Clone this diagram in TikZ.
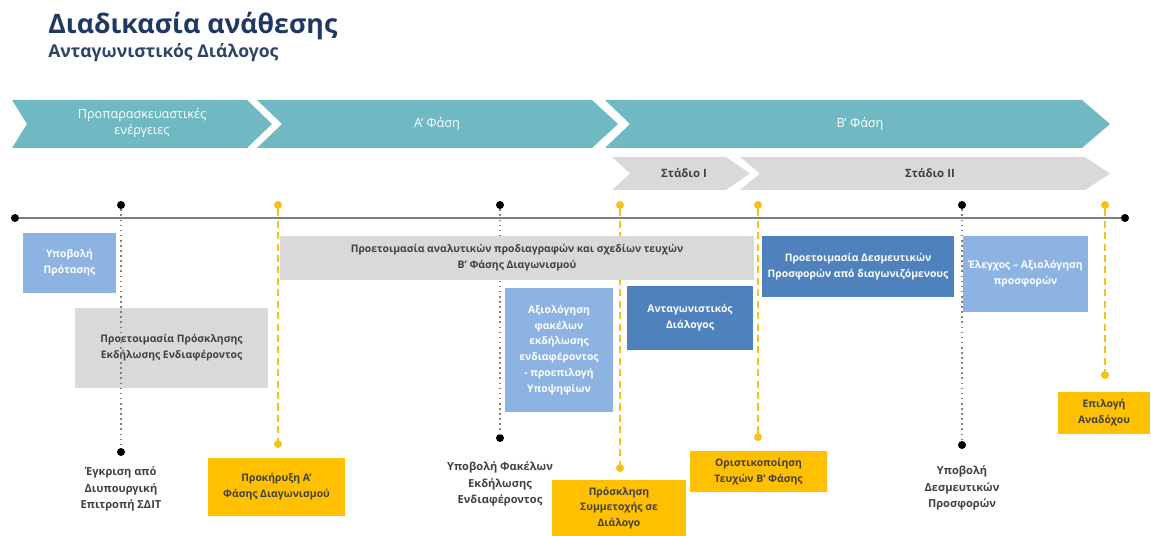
\documentclass[tikz,border=0pt]{standalone}
\usepackage{fontspec}
\setmainfont{Open Sans}
\definecolor{titleblue}{HTML}{1F3864}
\definecolor{subblue}{HTML}{2E4466}
\definecolor{phteal}{HTML}{70B9C3}
\definecolor{lgray}{HTML}{D9D9D9}
\definecolor{ylw}{HTML}{FFC000}
\definecolor{ylwline}{HTML}{F5C21B}
\definecolor{lblue}{HTML}{8DB3E2}
\definecolor{mblue}{HTML}{4F81BD}
\definecolor{txtdark}{HTML}{404040}
\definecolor{lineg}{HTML}{7F7F7F}
\begin{document}
\begin{tikzpicture}[x=0.02cm,y=-0.02cm,
  box/.style={rectangle, inner sep=1pt, align=center, font=\bfseries\fontsize{5.9}{9}\selectfont},
  graybox/.style={box, fill=lgray, text=txtdark},
  ybox/.style={box, fill=ylw, text=txtdark},
  lbbox/.style={box, fill=lblue, text=white},
  mbbox/.style={box, fill=mblue, text=white},
  phasetext/.style={align=center, text=white, font=\fontsize{7.2}{8.8}\selectfont},
  stagetext/.style={align=center, text=txtdark, font=\bfseries\fontsize{6.5}{8.5}\selectfont},
  evlabel/.style={align=center, text=txtdark, font=\bfseries\fontsize{6.3}{9.2}\selectfont},
  bdot/.style={circle, fill=black, inner sep=0pt, minimum size=0.16cm},
  ydot/.style={circle, fill=ylwline, inner sep=0pt, minimum size=0.16cm},
  bline/.style={draw=lineg, line width=0.9pt, dotted},
  yline/.style={draw=ylwline, line width=1.3pt, dash pattern=on 4pt off 2.5pt}
]
\useasboundingbox (0,0) rectangle (1151,536);

% Title
\node[anchor=west, inner sep=0pt, text=titleblue, font=\bfseries\fontsize{15.2}{17}\selectfont] (title) at (48,26) {Διαδικασία ανάθεσης};
\node[anchor=west, inner sep=0pt, text=subblue, font=\bfseries\fontsize{10}{11}\selectfont] (subtitle) at (48,53) {Ανταγωνιστικός Διάλογος};

% Phase chevrons
\fill[phteal] (12,100) -- (247,100) -- (272,124) -- (247,148) -- (12,148) -- (27,124) -- cycle;
\fill[phteal] (257,100) -- (592,100) -- (618,124) -- (592,148) -- (257,148) -- (282,124) -- cycle;
\fill[phteal] (605,100) -- (1082,100) -- (1110,124) -- (1082,148) -- (605,148) -- (630,124) -- cycle;
\node[phasetext] (ph1) at (142,123) {Προπαρασκευαστικές\\ενέργειες};
\node[phasetext] (ph2) at (437,124) {Α’ Φάση};
\node[phasetext] (ph3) at (860,124) {Β’ Φάση};

% Stage chevrons
\fill[lgray] (612,157) -- (726,157) -- (750,173.5) -- (726,190) -- (612,190) -- (630,173.5) -- cycle;
\fill[lgray] (740,157) -- (1085,157) -- (1110,173.5) -- (1085,190) -- (740,190) -- (760,173.5) -- cycle;
\node[stagetext] (st1) at (684,173.5) {Στάδιο Ι};
\node[stagetext] (st2) at (930,173.5) {Στάδιο ΙΙ};

% Timeline
\node[bdot] (tl0) at (15,218) {};
\node[bdot] (tl1) at (1125,218) {};
\draw[lineg, line width=1.1pt] (tl0) -- (tl1);

% Box lying under the event lines
\node[graybox, minimum width=3.86cm, minimum height=1.6cm] (b2) at (171.5,348) {Προετοιμασία Πρόσκλησης\\Εκδήλωσης Ενδιαφέροντος};

% Event markers (top)
\node[bdot] (e1) at (121,205) {};
\node[ydot] (e2) at (278,205) {};
\node[bdot] (e3) at (500,205) {};
\node[ydot] (e4) at (620,205) {};
\node[ydot] (e5) at (758,205) {};
\node[bdot] (e6) at (962,205) {};
\node[ydot] (e7) at (1105,205) {};
% Event markers (bottom)
\node[bdot] (f1) at (121,452) {};
\node[ydot] (f2) at (278,444) {};
\node[bdot] (f3) at (500,438) {};
\node[ydot] (f4) at (620,468) {};
\node[ydot] (f5) at (758,437) {};
\node[bdot] (f6) at (962,445) {};
\node[ydot] (f7) at (1105,375) {};

\draw[bline] (e1) -- (f1);
\draw[yline] (e2) -- (f2);
\draw[bline] (e3) -- (f3);
\draw[yline] (e4) -- (f4);
\draw[yline] (e5) -- (f5);
\draw[bline] (e6) -- (f6);
\draw[yline] (e7) -- (f7);

% Boxes
\node[lbbox, minimum width=1.86cm, minimum height=1.2cm] (b1) at (69.5,263) {Υποβολή\\Πρότασης};
\node[graybox, minimum width=9.48cm, minimum height=0.88cm] (b3) at (517,258) {Προετοιμασία αναλυτικών προδιαγραφών και σχεδίων τευχών\\Β’ Φάσης Διαγωνισμού};
\node[lbbox, minimum width=2.16cm, minimum height=2.48cm] (b4) at (559,350) {Αξιολόγηση\\φακέλων\\εκδήλωσης\\ενδιαφέροντος\\- προεπιλογή\\Υποψηφίων};
\node[mbbox, minimum width=2.52cm, minimum height=1.28cm] (b5) at (690,318) {Ανταγωνιστικός\\Διάλογος};
\node[mbbox, minimum width=3.84cm, minimum height=1.22cm] (b6) at (858,266.5) {Προετοιμασία Δεσμευτικών\\Προσφορών από διαγωνιζόμενους};
\node[lbbox, minimum width=2.5cm, minimum height=1.52cm] (b7) at (1025.5,274) {Έλεγχος – Αξιολόγηση\\προσφορών};
\node[ybox, minimum width=1.84cm, minimum height=0.84cm] (b8) at (1104,413) {Επιλογή\\Αναδόχου};
\node[ybox, minimum width=2.74cm, minimum height=1.16cm] (b9) at (276.5,487) {Προκήρυξη Α’\\Φάσης Διαγωνισμού};
\node[ybox, minimum width=2.68cm, minimum height=1.12cm] (b10) at (619,508) {Πρόσκληση\\Συμμετοχής σε\\Διάλογο};
\node[ybox, minimum width=2.74cm, minimum height=0.82cm] (b11) at (758.5,471.5) {Οριστικοποίηση\\Τευχών Β’ Φάσης};

% Event labels
\node[evlabel] (l1) at (121,489) {Έγκριση από\\Διυπουργική\\Επιτροπή ΣΔΙΤ};
\node[evlabel] (l2) at (500,484) {Υποβολή Φακέλων\\Εκδήλωσης\\Ενδιαφέροντος};
\node[evlabel] (l3) at (962,488) {Υποβολή\\Δεσμευτικών\\Προσφορών};
\end{tikzpicture}
\end{document}
